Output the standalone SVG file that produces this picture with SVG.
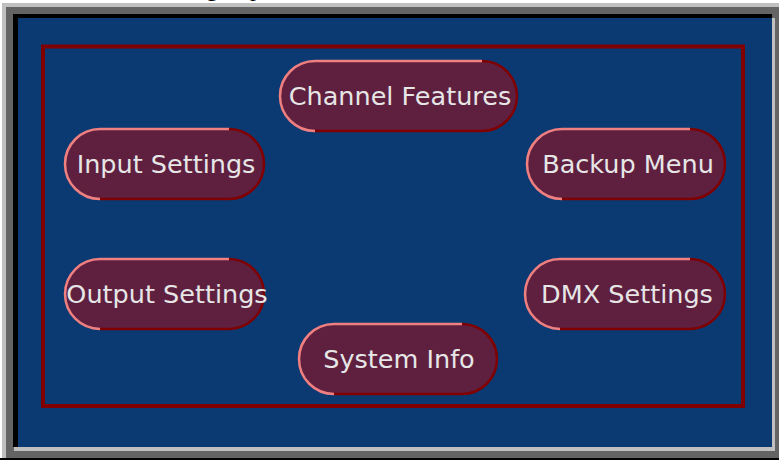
<svg xmlns="http://www.w3.org/2000/svg" width="779" height="460" viewBox="0 0 779 460">
<style>
.pill{fill:#5f2040}
.hi{fill:none;stroke:#f08080;stroke-width:2.5}
.sh{fill:none;stroke:#800000;stroke-width:2.5}
.lbl{font-family:"DejaVu Sans","Verdana",sans-serif;font-size:25.5px;fill:#e6e6e6;text-anchor:middle}
</style>
<rect x="0" y="0" width="779" height="460" fill="#ffffff"/>
<text x="206" y="-4" font-family="Liberation Serif, serif" font-size="24" fill="#000">g<tspan x="250">p</tspan></text>
<g id="frame">
<rect x="2" y="3" width="777" height="457" fill="#c0c0c0"/>
<rect x="6" y="7" width="773" height="451" fill="#646464"/>
<rect x="14" y="18" width="761" height="433" fill="#c0c0c0"/>
<rect x="13" y="14" width="759" height="4" fill="#000"/>
<rect x="13" y="14" width="5" height="433" fill="#000"/>
<rect x="18" y="18" width="754" height="429" fill="#0b3a73"/>
<rect x="0" y="458" width="779" height="2" fill="#000"/>
<rect x="43" y="46.5" width="700" height="359.5" fill="none" stroke="#800000" stroke-width="4"/>
</g>
<g id="channel-features">
<rect class="pill" x="280" y="61" width="237" height="70" rx="35" ry="35"/>
<path class="hi" d="M315,131 A35,35 0 0 1 315,61 L482,61"/>
<path class="sh" d="M482,61 A35,35 0 0 1 482,131 L315,131"/>
<text class="lbl" x="400" y="105">Channel Features</text>
</g>
<g id="input-settings">
<rect class="pill" x="65" y="129" width="199" height="70" rx="35" ry="35"/>
<path class="hi" d="M100,199 A35,35 0 0 1 100,129 L229,129"/>
<path class="sh" d="M229,129 A35,35 0 0 1 229,199 L100,199"/>
<text class="lbl" x="166" y="173">Input Settings</text>
</g>
<g id="backup-menu">
<rect class="pill" x="527" y="129" width="198" height="70" rx="35" ry="35"/>
<path class="hi" d="M562,199 A35,35 0 0 1 562,129 L690,129"/>
<path class="sh" d="M690,129 A35,35 0 0 1 690,199 L562,199"/>
<text class="lbl" x="628" y="173">Backup Menu</text>
</g>
<g id="output-settings">
<rect class="pill" x="65" y="259" width="199" height="70" rx="35" ry="35"/>
<path class="hi" d="M100,329 A35,35 0 0 1 100,259 L229,259"/>
<path class="sh" d="M229,259 A35,35 0 0 1 229,329 L100,329"/>
<text class="lbl" x="167" y="303">Output Settings</text>
</g>
<g id="dmx-settings">
<rect class="pill" x="525" y="259" width="200" height="70" rx="35" ry="35"/>
<path class="hi" d="M560,329 A35,35 0 0 1 560,259 L690,259"/>
<path class="sh" d="M690,259 A35,35 0 0 1 690,329 L560,329"/>
<text class="lbl" x="627" y="303">DMX Settings</text>
</g>
<g id="system-info">
<rect class="pill" x="299" y="324" width="198" height="70" rx="35" ry="35"/>
<path class="hi" d="M334,394 A35,35 0 0 1 334,324 L462,324"/>
<path class="sh" d="M462,324 A35,35 0 0 1 462,394 L334,394"/>
<text class="lbl" x="399" y="368">System Info</text>
</g>
<g id="connectors"></g>
</svg>
